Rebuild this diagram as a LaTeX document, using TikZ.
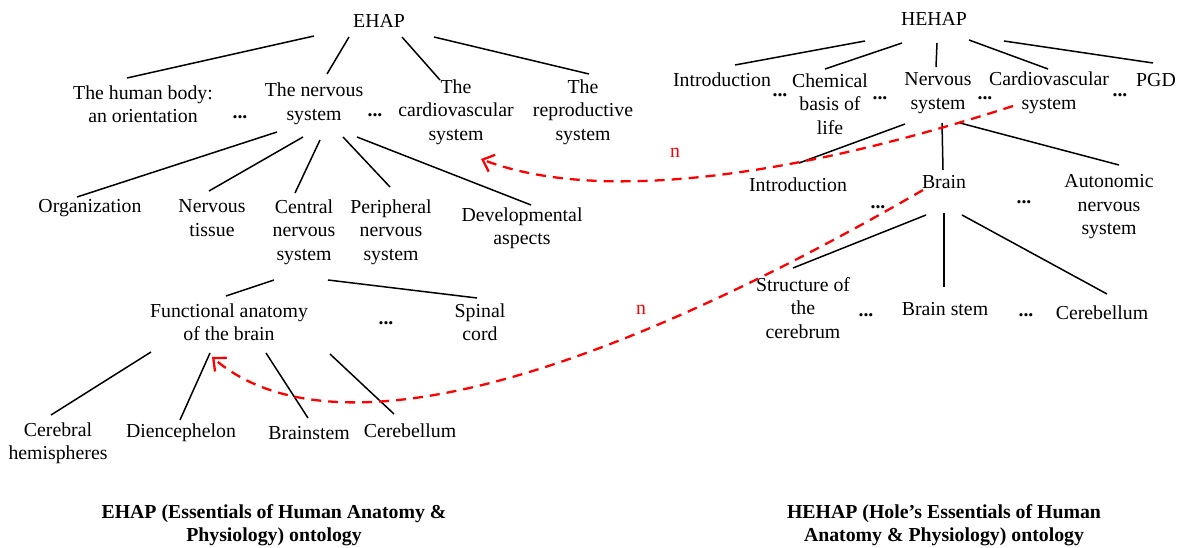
\documentclass[tikz,border=0pt]{standalone}
\usepackage{fontspec}
\setmainfont{Liberation Serif}
\usetikzlibrary{arrows.meta}

\begin{document}
\begin{tikzpicture}[x=1pt, y=-1pt,
    txt/.style={align=center, inner sep=0pt, font=\fontsize{19.8}{23.5}\selectfont},
    gap/.style={inner sep=0pt, font=\fontsize{19.8}{23.5}\selectfont\bfseries},
    ontcap/.style={align=center, inner sep=0pt, font=\fontsize{19.8}{23.5}\selectfont\bfseries},
    tie/.style={line width=1.5pt},
    link/.style={red, line width=2.3pt, dash pattern=on 10pt off 7pt, -{Straight Barb[length=10pt, width=18pt, line width=2.3pt]}}]
    \useasboundingbox (0,0) rectangle (1180,548);

    % Draw the EHAP tree
    \node[txt] (ehap) at (379,21) {EHAP};
    \node[txt] (body) at (143,104) {The human body:\\an orientation};
    \node[gap] (dotsA) at (240,117) {...};
    \node[txt] (nerv) at (314,104) {The nervous\\system};
    \node[gap] (dotsB) at (375,115) {...};
    \node[txt] (cardio) at (456,112) {The\\cardiovascular\\system};
    \node[txt] (repro) at (583,112) {The\\reproductive\\system};

    \node[txt] (organ) at (90,208) {Organization};
    \node[txt] (tissue) at (212,218) {Nervous\\tissue};
    \node[txt] (central) at (304,232) {Central\\nervous\\system};
    \node[txt] (periph) at (391,232) {Peripheral\\nervous\\system};
    \node[txt] (devel) at (522,228) {Developmental\\aspects};

    \node[txt] (func) at (229,322) {Functional anatomy\\of the brain};
    \node[gap] (dotsC) at (386,323) {...};
    \node[txt] (spinal) at (480,322) {Spinal\\cord};

    \node[txt] (cerebral) at (58,443) {Cerebral\\hemispheres};
    \node[txt] (dienc) at (181,433) {Diencephelon};
    \node[txt] (bstem) at (309,433) {Brainstem};
    \node[txt] (cereb) at (410,431) {Cerebellum};

    \draw[tie] ([shift={(-65,15)}]ehap.center) -- ([shift={(-16,-26)}]body.center);
    \draw[tie] ([shift={(-30,16)}]ehap.center) -- ([shift={(13,-30)}]nerv.center);
    \draw[tie] ([shift={(23,16)}]ehap.center) -- ([shift={(-16,-32)}]cardio.center);
    \draw[tie] ([shift={(55,16)}]ehap.center) -- ([shift={(6,-38)}]repro.center);

    \draw[tie] ([shift={(-37,28)}]nerv.center) -- ([shift={(-13,-11)}]organ.center);
    \draw[tie] ([shift={(-11,33)}]nerv.center) -- ([shift={(-3,-27)}]tissue.center);
    \draw[tie] ([shift={(6,36)}]nerv.center) -- ([shift={(-9,-39)}]central.center);
    \draw[tie] ([shift={(29,33)}]nerv.center) -- ([shift={(-1,-45)}]periph.center);
    \draw[tie] ([shift={(43,33)}]nerv.center) -- ([shift={(9,-23)}]devel.center);

    \draw[tie] ([shift={(-30,48)}]central.center) -- ([shift={(-3,-26)}]func.center);
    \draw[tie] ([shift={(24,48)}]central.center) -- ([shift={(-3,-24)}]spinal.center);

    \draw[tie] ([shift={(-78,30)}]func.center) -- ([shift={(-7,-28)}]cerebral.center);
    \draw[tie] ([shift={(-19,31)}]func.center) -- ([shift={(-1,-13)}]dienc.center);
    \draw[tie] ([shift={(37,31)}]func.center) -- ([shift={(-1,-15)}]bstem.center);
    \draw[tie] ([shift={(101,32)}]func.center) -- ([shift={(-16,-17)}]cereb.center);

    % Draw the HEHAP tree
    \node[txt] (hehap) at (934,19) {HEHAP};
    \node[txt] (intro) at (722,80) {Introduction};
    \node[gap] (dotsD) at (780,95) {...};
    \node[txt] (chem) at (830,104) {Chemical\\basis of\\life};
    \node[gap] (dotsE) at (880,98) {...};
    \node[txt] (rnerv) at (938,93) {Nervous\\system};
    \node[gap] (dotsF) at (985,98) {...};
    \node[txt] (rcardio) at (1049,93) {Cardiovascular\\system};
    \node[gap] (dotsG) at (1120,95) {...};
    \node[txt] (pgd) at (1156,80) {PGD};

    \node[txt] (rintro) at (798,185) {Introduction};
    \node[txt] (brain) at (944,182) {Brain};
    \node[gap] (dotsH) at (878,207) {...};
    \node[gap] (dotsI) at (1024,202) {...};
    \node[txt] (auton) at (1109,207) {Autonomic\\nervous\\system};

    \node[txt] (struct) at (803,308) {Structure of\\the\\cerebrum};
    \node[gap] (dotsJ) at (866,315) {...};
    \node[txt] (brstem) at (945,309) {Brain stem};
    \node[gap] (dotsK) at (1026,315) {...};
    \node[txt] (rcereb) at (1102,313) {Cerebellum};

    \draw[tie] ([shift={(-69,22)}]hehap.center) -- ([shift={(13,-15)}]intro.center);
    \draw[tie] ([shift={(-32,24)}]hehap.center) -- ([shift={(-5,-35)}]chem.center);
    \draw[tie] ([shift={(3,24)}]hehap.center) -- ([shift={(-2,-26)}]rnerv.center);
    \draw[tie] ([shift={(35,21)}]hehap.center) -- ([shift={(-1,-24)}]rcardio.center);
    \draw[tie] ([shift={(70,22)}]hehap.center) -- ([shift={(-3,-17)}]pgd.center);

    \draw[tie] ([shift={(-33,31)}]rnerv.center) -- ([shift={(1,-22)}]rintro.center);
    \draw[tie] ([shift={(4,30)}]rnerv.center) -- ([shift={(-1,-12)}]brain.center);
    \draw[tie] ([shift={(22,30)}]rnerv.center) -- ([shift={(10,-42)}]auton.center);

    \draw[tie] ([shift={(-18,33)}]brain.center) -- ([shift={(-10,-40)}]struct.center);
    \draw[tie] ([shift={(0,31)}]brain.center) -- ([shift={(-1,-22)}]brstem.center);
    \draw[tie] ([shift={(18,33)}]brain.center) -- ([shift={(5,-19)}]rcereb.center);

    % Draw the mappings
    \draw[link] ([shift={(-36,13)}]rcardio.center) .. controls (800,175) and (600,205) .. ([shift={(25,47)}]cardio.center);
    \node[txt, red] (nA) at (675,153) {n};
    \draw[link] ([shift={(-21,8)}]brain.center) .. controls (560,400) and (320,450) .. ([shift={(-17,35)}]func.center);
    \node[txt, red] (nB) at (641,310) {n};

    % Draw captions
    \node[ontcap] (capL) at (274,525) {EHAP (Essentials of Human Anatomy \&\\Physiology) ontology};
    \node[ontcap] (capR) at (944,525) {HEHAP (Hole’s Essentials of Human\\Anatomy \& Physiology) ontology};
\end{tikzpicture}
\end{document}
